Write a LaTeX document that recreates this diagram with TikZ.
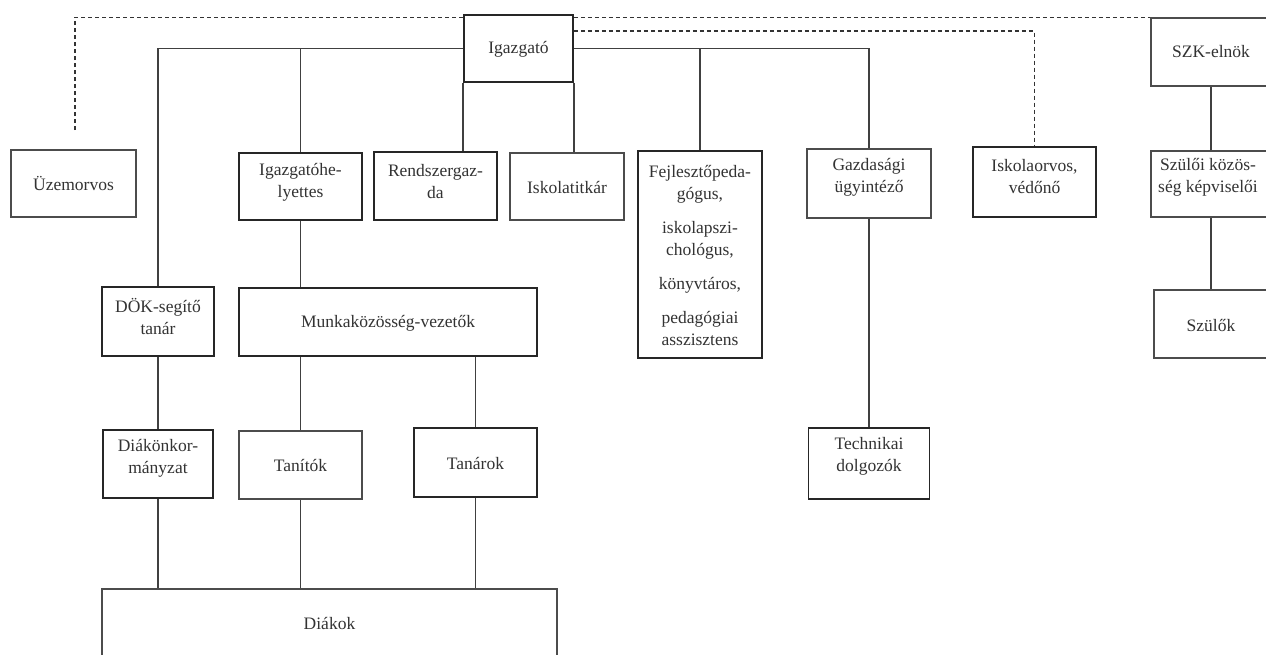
\documentclass[tikz,border=0pt]{standalone}
\usepackage{fontspec}
\setmainfont{Liberation Serif}
\begin{document}
\begin{tikzpicture}[x=1pt,y=-1pt,
  box/.style={draw=black!70, line width=1.3pt, inner sep=0pt, rectangle},
  boxb/.style={box, draw=black!85, line width=1.7pt},
  txt/.style={align=center, font=\fontsize{17.5}{22}\selectfont, text=black!80, inner sep=0pt},
  conn/.style={draw=black!75, line width=1.4pt},
  dline/.style={draw=black!80, line width=1.5pt, dash pattern=on 4pt off 3pt}]
\clip (0,0) rectangle (1266,654);
\fill[white] (0,0) rectangle (1266,654);
% boxes
\node[boxb, minimum width=109pt, minimum height=67pt] (igz) at (518.5,48.5) {};
\node[txt] (igzt) at (518.5,49) {Igazgató};
\node[box, minimum width=125pt, minimum height=67pt] (uz) at (73.5,183.5) {};
\node[txt] (uzt) at (73.5,183) {Üzemorvos};
\node[boxb, minimum width=123pt, minimum height=67pt] (igh) at (300.5,186.5) {};
\node[txt] (ight) at (300.5,182) {Igazgatóhe-\\lyettes};
\node[boxb, minimum width=123pt, minimum height=68pt] (rend) at (435.5,186) {};
\node[txt] (rendt) at (435.5,181.5) {Rendszergaz-\\da};
\node[box, minimum width=114pt, minimum height=67pt] (isk) at (567,186.5) {};
\node[txt] (iskt) at (567,187) {Iskolatitkár};
\node[boxb, minimum width=124pt, minimum height=207pt] (fej) at (700,254.5) {};
\node[txt] (fejt) at (700,255) {Fejlesztőpeda-\\gógus,\\[12pt]iskolapszi-\\chológus,\\[12pt]könyvtáros,\\[12pt]pedagógiai\\asszisztens};
\node[box, minimum width=124pt, minimum height=69pt] (gaz) at (869,183.5) {};
\node[txt] (gazt) at (869,177.5) {Gazdasági\\ügyintéző};
\node[boxb, minimum width=123pt, minimum height=70pt] (iso) at (1034.5,182) {};
\node[txt] (isot) at (1034.5,177) {Iskolaorvos,\\védőnő};
\node[box, minimum width=120pt, minimum height=68pt] (szk) at (1211,52) {};
\node[txt] (szkt) at (1211,52) {SZK-elnök};
\node[box, minimum width=120pt, minimum height=66pt] (szkp) at (1211,184) {};
\node[txt] (szkpt) at (1208,177) {Szülői közös-\\ség képviselői};
\node[box, minimum width=120pt, minimum height=68pt] (szl) at (1214,324) {};
\node[txt] (szlt) at (1211,325) {Szülők};
\node[boxb, minimum width=112pt, minimum height=69pt] (dok) at (158,321.5) {};
\node[txt] (dokt) at (158,316) {DÖK-segítő\\tanár};
\node[boxb, minimum width=298pt, minimum height=68pt] (munk) at (388,322) {};
\node[txt] (munkt) at (388,323) {Munkaközösség-vezetők};
\node[boxb, minimum width=110pt, minimum height=68pt] (dia) at (158,464) {};
\node[txt] (diat) at (158,458) {Diákönkor-\\mányzat};
\node[box, minimum width=123pt, minimum height=68pt] (tanit) at (300.5,465) {};
\node[txt] (tanitt) at (300.5,465) {Tanítók};
\node[boxb, minimum width=123pt, minimum height=69pt] (tanar) at (475.5,462.5) {};
\node[txt] (tanart) at (475.5,463) {Tanárok};
\node[boxb, minimum width=121pt, minimum height=71pt] (tech) at (869,463.5) {};
\node[txt] (techt) at (869,456) {Technikai\\dolgozók};
\node[box, minimum width=455pt, minimum height=81pt] (diak) at (329.5,629.5) {};
\node[txt] (diakt) at (329.5,623) {Diákok};
% solid connectors
\draw[conn] (dok.north) |- (igz.west);
\draw[conn] (igh.north) -- (igh.north |- igz.west);
\draw[conn] (igz.east) -| (gaz.north);
\draw[conn] (fej.north) -- (fej.north |- igz.east);
\draw[conn] (igz.south west) -- (igz.south west |- rend.north);
\draw[conn] (igz.south east) -- (igz.south east |- isk.north);
\draw[conn] (igh.south) -- (igh.south |- munk.north);
\draw[conn] (tanit.north) -- (tanit.north |- munk.south);
\draw[conn] (tanar.north) -- (tanar.north |- munk.south);
\draw[conn] (dok.south) -- (dia.north);
\draw[conn] (dia.south) -- (dia.south |- diak.north);
\draw[conn] (tanit.south) -- (tanit.south |- diak.north);
\draw[conn] (tanar.south) -- (tanar.south |- diak.north);
\draw[conn] (gaz.south) -- (gaz.south |- tech.north);
\draw[conn] (szkp.north) -- (szkp.north |- szk.south);
\draw[conn] (szkp.south) -- (szkp.south |- szl.north);
% dashed connectors
\coordinate (uzc) at (75,130);
\draw[dline] (uzc) |- (igz.west |- szk.north);
\draw[dline] (igz.east |- szk.north) -- (szk.north west);
\draw[dline] ([yshift=-17pt]igz.north east) -| (iso.north);
\end{tikzpicture}
\end{document}
